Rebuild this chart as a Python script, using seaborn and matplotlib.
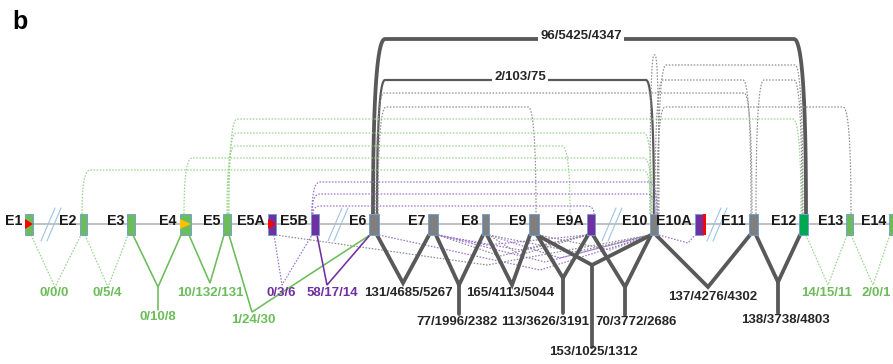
import numpy as np
import pandas as pd
import matplotlib
matplotlib.use("Agg")
import matplotlib.pyplot as plt
import seaborn as sns

# ---------------- data ----------------
exons = ["E1", "E2", "E3", "E4", "E5", "E5A", "E5B", "E6", "E7", "E8", "E9",
         "E9A", "E10", "E10A", "E11", "E12", "E13", "E14"]
exon_kind = ["g", "g", "g", "g", "g", "p", "p", "k", "k", "k", "k",
             "p", "k", "p", "k", "G", "g", "g"]

# junctions drawn below the exon track
jn_from = ["E1", "E2", "E3", "E4", "E5", "E5A", "E5B", "E6", "E7", "E8", "E9",
           "E9", "E9A", "E10", "E11", "E12", "E13"]
jn_to = ["E2", "E3", "E4", "E5", "E6", "E5B", "E6", "E7", "E8", "E9", "E9A",
         "E10", "E10", "E11", "E12", "E13", "E14"]
jn_counts = ["0/0/0", "0/5/4", "0/10/8", "10/132/131", "1/24/30", "0/3/6",
             "58/17/14", "131/4685/5267", "77/1996/2382", "165/4113/5044",
             "113/3626/3191", "153/1025/1312", "70/3772/2686", "137/4276/4302",
             "138/3738/4803", "14/15/11", "2/0/1"]
jn_kind = ["gd", "gd", "g", "g", "g", "pd", "p", "k", "k", "k", "k", "k", "k",
           "k", "k", "gd", "gd"]

# junctions drawn above the exon track
arc_from = ["E6", "E6", "E6", "E6", "E10", "E10", "E11", "E10", "E10",
            "E5", "E5", "E5", "E4", "E2", "E5B", "E5B", "E5B"]
arc_to = ["E12", "E10", "E11", "E9", "E12", "E11", "E12", "E13", "E10",
          "E12", "E10", "E9A", "E10", "E10", "E10", "E10", "E9A"]
arc_counts = ["96/5425/4347", "2/103/75", "", "", "", "", "", "", "",
              "", "", "", "", "", "", "", ""]
arc_kind = ["K", "k", "kd", "kd", "kd", "kd", "kd", "kd", "kd",
            "gd", "gd", "gd", "gd", "gd", "pd", "pd", "pd"]

# minor (skipping) junctions drawn as dotted lines below the track
minor_from = ["E5A", "E7", "E7", "E7", "E8", "E8", "E9", "E9A", "E9A", "E10", "E6"]
minor_to = ["E10", "E10", "E9A", "E9A", "E10", "E10", "E10", "E7", "E8", "E10A", "E10"]
minor_kind = ["kd", "pd", "pd", "kd", "pd", "kd", "kd", "pd", "kd", "pd", "pd"]

# ---------------- layout ----------------
ex_left = [25, 80, 127, 180, 223, 268, 311, 369, 428, 482, 529, 587, 650, 695, 749, 799, 846, 889]
ex_w = [8, 7, 8, 11, 8, 8, 8, 10, 10, 7, 10, 8, 8, 8, 9, 9, 7, 8]
TOP, BOT = 214, 235
jn_bx = [55, 108, 158, 210, 252, 282, 327, 403, 459, 512, 563, 592, 625, 708, 778, 828, 873]
jn_by = [287, 287, 287, 283, 312, 285, 285, 283, 285, 285, 278, 265, 287, 287, 282, 285, 285]
jn_stem = [None, None, 310, None, None, None, None, None, 314, None, 313, 347, 315, None, 313, None, None]
jn_lx = [54, 107, 158, 210, 253, 281, 332, 408, 457, 510, 545, 593, 636, 713, 785, 827, 861]
jn_ly = [293, 293, 317, 293, 320, 293, 293, 293, 322, 293, 322, 352, 322, 297, 320, 293, 293]
arc_x1 = [373, 377, 376, 378, 658, 655, 756, 657, 650, 229, 228, 227, 184, 82, 312, 312, 313]
arc_x2 = [806, 654, 752, 536, 803, 751, 802, 851, 659, 801, 652, 570, 652, 651, 657, 655, 594]
arc_y = [39, 80, 93, 107, 65, 80, 80, 107, 55, 119, 133, 146, 158, 170, 182, 194, 206]
arc_r = [12, 8, 8, 8, 8, 8, 8, 8, 4, 8, 8, 8, 8, 8, 8, 8, 8]
arc_lx = [581, 520]
minor_x1 = [276, 438, 438, 438, 489, 489, 539, 587, 587, 659, 379]
minor_mid = [(487, 265), (545, 262), (520, 250), (500, 256), (560, 258), (575, 252),
             (610, 250), (487, 245), (520, 255), (688, 243), (540, 270)]
minor_x2 = [650, 650, 587, 588, 650, 651, 651, 437, 489, 695, 652]

GREEN, GREEN_L, DGREEN = "#6cbd5a", "#93d486", "#00a84f"
PURPLE, PURPLE_L = "#7030a0", "#9a6fcf"
GREY, DARK, GREY_L = "#7f7f7f", "#595959", "#8c8c8c"
face = {"g": GREEN, "G": DGREEN, "p": PURPLE, "k": GREY}
px = 0.72  # points per pixel at dpi 100
DOT = (0, (1.3, 1.3))
styles = {
    "K": dict(color=DARK, lw=3.8 * px, ls="-"),
    "k": dict(color=DARK, lw=3.8 * px, ls="-"),
    "kd": dict(color=GREY_L, lw=1.2 * px, ls=DOT),
    "g": dict(color=GREEN, lw=1.6 * px, ls="-"),
    "gd": dict(color=GREEN_L, lw=1.2 * px, ls=DOT),
    "p": dict(color=PURPLE, lw=1.6 * px, ls="-"),
    "pd": dict(color=PURPLE_L, lw=1.2 * px, ls=DOT),
}
arc_styles = dict(styles)
arc_styles["k"] = dict(color=DARK, lw=2.2 * px, ls="-")
txt_col = {"g": GREEN, "gd": GREEN, "p": PURPLE, "pd": PURPLE, "k": "#262626", "K": "#262626"}

FS_J = 9.5
FS_E = 10.3

sns.set_theme(style="white")
plt.rcParams["font.family"] = ["Liberation Sans", "DejaVu Sans"]

fig = plt.figure(figsize=(8.93, 3.64), dpi=100)
ax = fig.add_axes([0, 0, 1, 1])
ax.set_xlim(0, 893)
ax.set_ylim(364, 0)
ax.axis("off")

idx = {e: i for i, e in enumerate(exons)}
ex_right = [l + w for l, w in zip(ex_left, ex_w)]

# backbone
bb = pd.DataFrame({"x": [ex_left[0] + 4, 893], "y": [224, 224]})
sns.lineplot(data=bb, x="x", y="y", ax=ax, color="#b3b3b3", lw=1.6 * px, zorder=1)

# break marks
for x0 in [41, 328, 602, 707]:
    for d in (0, 6):
        ax.plot([x0 + d, x0 + d + 14], [241, 208], color="#9dc3e6", lw=1.1 * px, zorder=2)


def bracket(x1, x2, yt, r, n=30):
    t = np.linspace(0, 1, n)
    lx = x1 + t ** 2 * r
    ly = yt + (1 - t) ** 2 * (TOP - yt)
    rx = x2 - (1 - t) ** 2 * r
    ry = yt + t ** 2 * (TOP - yt)
    return np.r_[lx, rx], np.r_[ly, ry]


# arcs above
for i in range(len(arc_from)):
    xs, ys = bracket(arc_x1[i], arc_x2[i], arc_y[i], arc_r[i])
    st = arc_styles[arc_kind[i]]
    ax.plot(xs, ys, color=st["color"], lw=st["lw"], ls=st["ls"], zorder=3,
            solid_capstyle="butt")
    if arc_counts[i]:
        ax.text(arc_lx[i], arc_y[i] - 3, arc_counts[i],
                ha="center", va="center", fontsize=FS_J, fontweight="bold", color="#262626",
                bbox=dict(facecolor="white", edgecolor="none", pad=1.5), zorder=4)

# minor dotted junctions below
for i in range(len(minor_from)):
    st = styles[minor_kind[i]]
    ax.plot([minor_x1[i], minor_mid[i][0], minor_x2[i]], [BOT, minor_mid[i][1], BOT],
            color=st["color"], lw=st["lw"], ls=st["ls"], zorder=3)

# main junctions below
for i in range(len(jn_from)):
    st = styles[jn_kind[i]]
    a, b = idx[jn_from[i]], idx[jn_to[i]]
    xa = ex_right[a] - 2
    xb = ex_left[b] + 1
    ax.plot([xa, jn_bx[i], xb], [BOT, jn_by[i], BOT], color=st["color"], lw=st["lw"],
            ls=st["ls"], zorder=4, solid_joinstyle="miter")
    if jn_stem[i] is not None:
        ax.plot([jn_bx[i], jn_bx[i]], [jn_by[i], jn_stem[i]], color=st["color"],
                lw=st["lw"], ls=st["ls"], zorder=4)
    ax.text(jn_lx[i], jn_ly[i], jn_counts[i], ha="left" if jn_counts[i] == "2/0/1" else "center",
            va="center", fontsize=FS_J, fontweight="bold", color=txt_col[jn_kind[i]], zorder=5)

# exons
ax.bar(ex_left, BOT - TOP, width=ex_w, bottom=TOP, align="edge",
       color=[face[k] for k in exon_kind], edgecolor="#6d9ed3", linewidth=0.9 * px, zorder=6)
for i, e in enumerate(exons):
    ax.text(ex_left[i] - 3, 221, e, ha="right", va="center", fontsize=FS_E,
            fontweight="bold", color="#1a1a1a", zorder=7)

# start markers / special ends
for e, c in [("E1", "#ff0000"), ("E5A", "#ff0000"), ("E4", "#ffc000")]:
    i = idx[e]
    ax.fill([ex_left[i], ex_left[i], ex_left[i] + ex_w[i]], [219, 229, 224], color=c, zorder=7, lw=0)
i = idx["E10A"]
ax.bar([ex_right[i]], BOT - TOP, width=3, bottom=TOP, align="edge", color="#ff0000", lw=0, zorder=7)

ax.text(12, 22, "b", fontsize=18, fontweight="bold", color="black", va="center", ha="left")

fig.savefig("out.png", dpi=100)
